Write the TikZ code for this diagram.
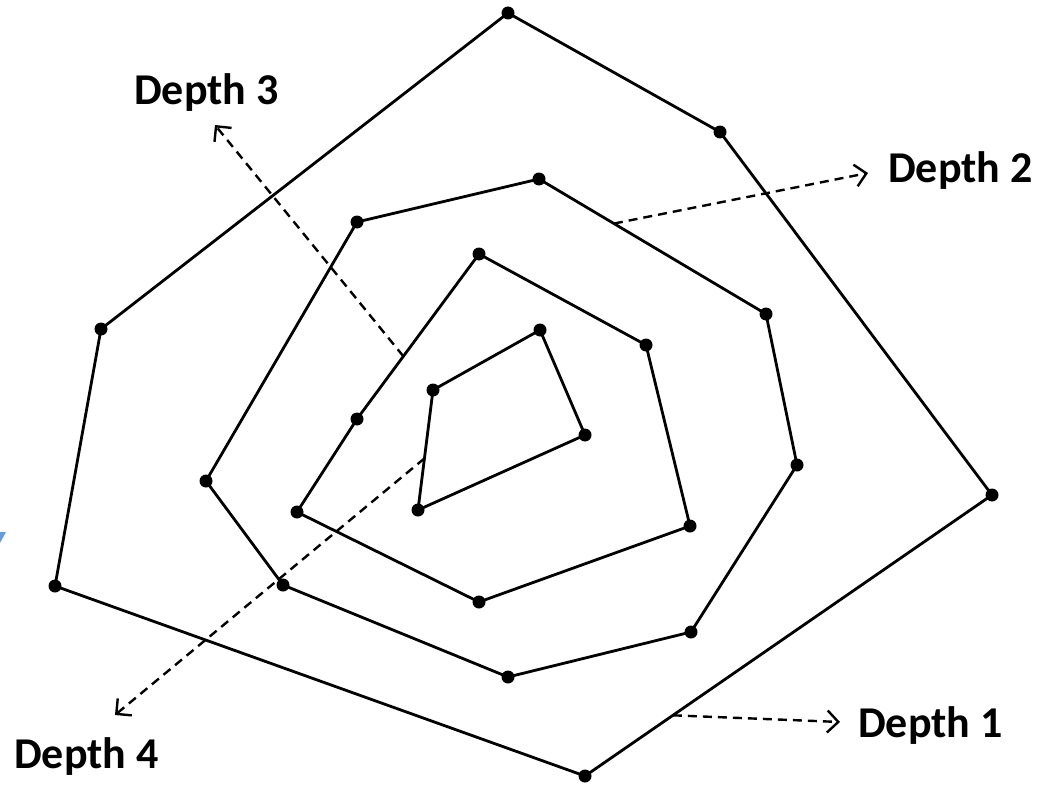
\documentclass[tikz,border=0pt]{standalone}
\usepackage{fontspec}
\setmainfont{Carlito}
\usetikzlibrary{arrows.meta,calc}
\definecolor{markblue}{HTML}{6A9BD8}
\tikzset{
  vtx/.style={circle,fill=black,inner sep=0pt,minimum size=13pt},
  ring/.style={line width=2.8pt,line join=round},
  callout/.style={line width=2.4pt,dash pattern=on 9pt off 6pt,-{Straight Barb[length=11pt,width=22pt,line width=2.4pt]}},
  lbl/.style={font=\bfseries\fontsize{44}{50}\selectfont,inner sep=0pt}
}
\begin{document}
\begin{tikzpicture}[x=1pt,y=-1pt]
\useasboundingbox (0,0) rectangle (1053,792);
% Depth 1
\node[vtx] (a1) at (508,13) {};
\node[vtx] (a2) at (720,132) {};
\node[vtx] (a3) at (992,495) {};
\node[vtx] (a4) at (585,776) {};
\node[vtx] (a5) at (55,586) {};
\node[vtx] (a6) at (101,329) {};
% Depth 2
\node[vtx] (b1) at (539,179) {};
\node[vtx] (b2) at (766,314) {};
\node[vtx] (b3) at (797,465) {};
\node[vtx] (b4) at (691,632) {};
\node[vtx] (b5) at (508,677) {};
\node[vtx] (b6) at (283,585) {};
\node[vtx] (b7) at (206,481) {};
\node[vtx] (b8) at (357,222) {};
% Depth 3
\node[vtx] (c1) at (479,254) {};
\node[vtx] (c2) at (646,345) {};
\node[vtx] (c3) at (690,526) {};
\node[vtx] (c4) at (479,602) {};
\node[vtx] (c5) at (297,512) {};
\node[vtx] (c6) at (357,419) {};
% Depth 4
\node[vtx] (d1) at (540,330) {};
\node[vtx] (d2) at (585,435) {};
\node[vtx] (d3) at (418,510) {};
\node[vtx] (d4) at (433,390) {};

\draw[ring] (a1.center) -- (a2.center) -- (a3.center) -- (a4.center) -- (a5.center) -- (a6.center) -- cycle;
\draw[ring] (b1.center) -- (b2.center) -- (b3.center) -- (b4.center) -- (b5.center) -- (b6.center) -- (b7.center) -- (b8.center) -- cycle;
\draw[ring] (c1.center) -- (c2.center) -- (c3.center) -- (c4.center) -- (c5.center) -- (c6.center) -- cycle;
\draw[ring] (d1.center) -- (d2.center) -- (d3.center) -- (d4.center) -- cycle;

% labels
\node[lbl,anchor=base west] (l1) at (858,737) {Depth 1};
\node[lbl,anchor=base west] (l2) at (888,182) {Depth 2};
\node[lbl,anchor=base west] (l3) at (134,105) {Depth 3};
\node[lbl,anchor=base west] (l4) at (14,768) {Depth 4};

% callout ends
\coordinate (s1) at ($(a4.center)!0.216!(a3.center)$);
\coordinate (s2) at ($(b1.center)!0.33!(b2.center)$);
\coordinate (s3) at ($(c6.center)!0.38!(c1.center)$);
\coordinate (s4) at ($(d4.center)!0.57!(d3.center)$);
\coordinate (t1) at (840,722);
\coordinate (t2) at (868,173);
\coordinate (t3) at (215,125);
\coordinate (t4) at (115,715);
\draw[callout] (s1) -- (t1);
\draw[callout] (s2) -- (t2);
\draw[callout] (s3) -- (t3);
\draw[callout] (s4) -- (t4);

% small blue mark at left edge
\fill[markblue] (0,532) -- (6,532) -- (0,543) -- cycle;
\end{tikzpicture}
\end{document}
